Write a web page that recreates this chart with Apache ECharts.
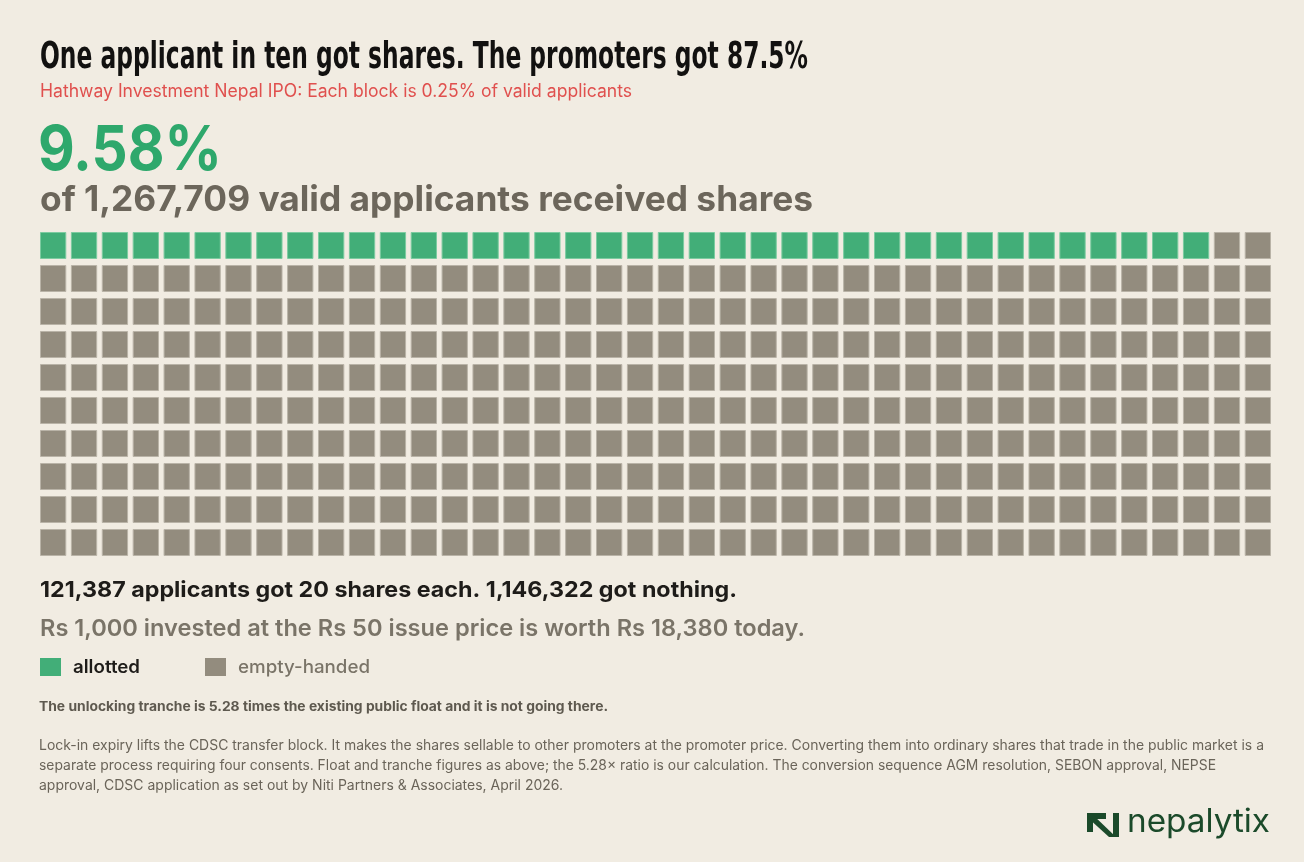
<!DOCTYPE html>
<html>
<head>
<meta charset="utf-8">
<script src="https://cdn.jsdelivr.net/npm/echarts@6/dist/echarts.min.js"></script>
<style>
html,body{margin:0;padding:0;background:#F1ECE2;}
#chart{width:1304px;height:862px;}
</style>
</head>
<body>
<div id="chart"></div>
<script>
// ---- data ----
const categories = ['allotted', 'empty-handed'];
const blockCounts = [38, 362];          // blocks of 0.25% each (9.58% -> 38 blocks)
const gridColumns = 40;
const gridRows = 10;
const headlineShare = '9.58%';
const validApplicants = '1,267,709';
const allottedApplicants = '121,387';
const emptyApplicants = '1,146,322';

// ---- styles ----
const BG = '#F1ECE2';
const fills = ['#42AE78', '#938C7E'];
const strokes = ['#7CCBA0', '#B9B3A7'];

// build cells in reading order from counts
const cellsByCat = [[], []];
let idx = 0;
blockCounts.forEach((n, c) => {
  for (let k = 0; k < n; k++) {
    const col = idx % gridColumns;
    const row = Math.floor(idx / gridColumns);
    cellsByCat[c].push([col, row]);
    idx++;
  }
});

const canvas = document.createElement('canvas');
const ctx2d = canvas.getContext('2d');
function fit(text, weight, size, family, target) {
  ctx2d.font = weight + ' ' + size + 'px ' + family;
  const w = ctx2d.measureText(text).width;
  return target / w;
}

function txt(text, x, y, size, weight, family, color, targetW) {
  const s = targetW ? fit(text, weight, size, family, targetW) : 1;
  return {
    type: 'text', x: x, y: y, scaleX: s, scaleY: 1, silent: true,
    style: {
      text: text, x: 0, y: 0, fill: color,
      fontSize: size, fontWeight: weight, fontFamily: family,
      textAlign: 'left', textVerticalAlign: 'middle'
    }
  };
}

const COND = '"Liberation Sans Narrow", "DejaVu Sans Condensed", sans-serif';
const SANS = 'Inter, "Noto Sans", sans-serif';

const gapX = 4.6, gapY = 6;
function renderCell(catIndex) {
  return function (params, api) {
    const c = api.value(0), r = api.value(1);
    const p0 = api.coord([c, r]);
    const p1 = api.coord([c + 1, r + 1]);
    return {
      type: 'rect',
      shape: { x: p0[0] + 0.5, y: p0[1] + 0.5, width: (p1[0] - p0[0]) - gapX - 1, height: (p1[1] - p0[1]) - gapY - 1 },
      style: { fill: fills[catIndex], stroke: strokes[catIndex], lineWidth: 1 }
    };
  };
}

const footLines = [
  'Lock-in expiry lifts the CDSC transfer block. It makes the shares sellable to other promoters at the promoter price. Converting them into ordinary shares that trade in the public market is a',
  'separate process requiring four consents. Float and tranche figures as above; the 5.28\u00d7 ratio is our calculation. The conversion sequence AGM resolution, SEBON approval, NEPSE',
  'approval, CDSC application as set out by Niti Partners & Associates, April 2026.'
];
const footWidths = [1225, 1177, 524];

const graphics = [
  txt('One applicant in ten got shares. The promoters got 87.5%', 40, 58, 38, 'bold', COND, '#121110', 768),
  txt('Hathway Investment Nepal IPO: Each block is 0.25% of valid applicants', 40, 92, 18, 'normal', SANS, '#E0504E', 592),
  txt(headlineShare, 38, 151, 62, 'bold', SANS, '#2EA86C', 184),
  txt('of ' + validApplicants + ' valid applicants received shares', 40, 200, 35, 'bold', SANS, '#6C665B', 773),
  txt(allottedApplicants + ' applicants got 20 shares each. ' + emptyApplicants + ' got nothing.', 40, 590, 22, 'bold', SANS, '#1E1C19', 697),
  txt('Rs 1,000 invested at the Rs 50 issue price is worth Rs 18,380 today.', 40, 629, 23, '600', SANS, '#7A7468', 765),
  // legend
  { type: 'rect', shape: { x: 40, y: 658, width: 21, height: 18 }, style: { fill: fills[0] }, silent: true },
  txt(categories[0], 73, 668, 18, '600', SANS, '#1E1C19', 67),
  { type: 'rect', shape: { x: 205, y: 658, width: 21, height: 18 }, style: { fill: fills[1] }, silent: true },
  txt(categories[1], 238, 668, 18, '500', SANS, '#7A7468', 132),
  txt('The unlocking tranche is 5.28 times the existing public float and it is not going there.', 39, 707, 13, 'bold', SANS, '#5E594F', 569),
  txt(footLines[0], 39, 746, 14, 'normal', SANS, '#6A6459', footWidths[0]),
  txt(footLines[1], 39, 766, 14, 'normal', SANS, '#6A6459', footWidths[1]),
  txt(footLines[2], 39, 786, 14, 'normal', SANS, '#6A6459', footWidths[2]),
  // logo
  { type: 'polygon', silent: true, shape: { points: [[1087, 813], [1106, 813], [1106, 819], [1093, 819], [1093, 832], [1087, 832]] }, style: { fill: '#1B4A2A' } },
  { type: 'polygon', silent: true, shape: { points: [[1087, 817], [1091, 813], [1116, 837], [1109, 837], [1087, 817]] }, style: { fill: '#1B4A2A' } },
  { type: 'rect', silent: true, shape: { x: 1113, y: 813, width: 6, height: 24 }, style: { fill: '#1B4A2A' } },
  txt('nepalytix', 1127, 822, 32, 'normal', SANS, '#1B4A2A', 143)
];

const chart = echarts.init(document.getElementById('chart'), null, { renderer: 'canvas' });
chart.setOption({
  backgroundColor: BG,
  animation: false,
  grid: { left: 40, top: 232, width: 30.89 * gridColumns, height: 33 * gridRows, containLabel: false },
  xAxis: { type: 'value', min: 0, max: gridColumns, show: false },
  yAxis: { type: 'value', min: 0, max: gridRows, inverse: true, show: false },
  series: categories.map((name, c) => ({
    name: name,
    type: 'custom',
    renderItem: renderCell(c),
    encode: { x: 0, y: 1 },
    data: cellsByCat[c],
    silent: true
  })),
  graphic: graphics
});
</script>
</body>
</html>
